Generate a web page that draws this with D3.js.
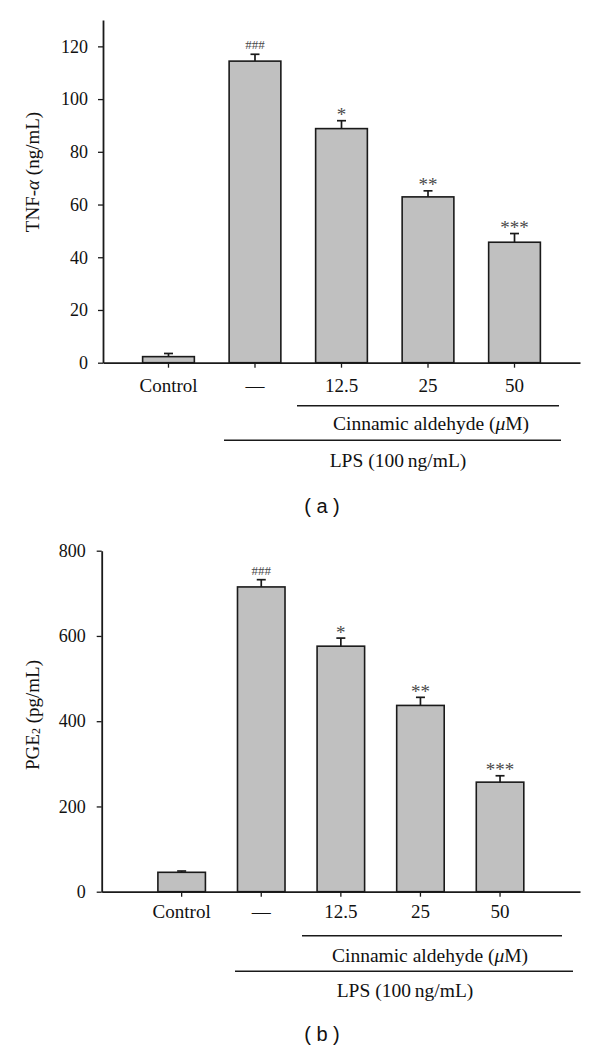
<!DOCTYPE html>
<html>
<head>
<meta charset="utf-8">
<script src="https://cdn.jsdelivr.net/npm/d3@7"></script>
<style>
  body { margin: 0; background: #fff; }
  svg { display: block; }
  text { font-family: "Liberation Serif", "Times New Roman", serif; fill: #111; }
</style>
</head>
<body>
<svg id="chart" width="600" height="1050"></svg>
<script>
// ---- data ----
const categories = ["Control", "\u2014", "12.5", "25", "50"];
const tnfValues = [2.3, 114.4, 88.8, 62.9, 45.7];
const tnfErrors = [1.2, 2.6, 3.0, 2.3, 3.3];
const pgeValues = [45.5, 715, 576, 437, 257];
const pgeErrors = [3, 17, 19, 19, 15];
const sigMarks = ["", "###", "*", "**", "***"];
const tnfTicks = [0, 20, 40, 60, 80, 100, 120];
const pgeTicks = [0, 200, 400, 600, 800];

const svg = d3.select("#chart");
const ink = "#1a1a1a";

function panel(cfg) {
  const g = svg.append("g");
  const x = d3.scaleBand().domain(categories)
    .range(cfg.xRange).paddingInner(cfg.pi).paddingOuter(cfg.po);
  const y = d3.scaleLinear().domain(cfg.yDomain).range(cfg.yRange);
  const y0 = y(0);

  // bars
  g.selectAll("rect.bar").data(cfg.values).join("rect")
    .attr("x", (d, i) => x(categories[i]))
    .attr("y", d => y(d))
    .attr("width", x.bandwidth())
    .attr("height", d => y0 - y(d))
    .attr("fill", "#c0c0c0")
    .attr("stroke", ink)
    .attr("stroke-width", 1.6);

  // error bars (upper only)
  const capW = 9;
  cfg.values.forEach((v, i) => {
    const cx = x(categories[i]) + x.bandwidth() / 2;
    const top = y(v + cfg.errors[i]);
    g.append("line").attr("x1", cx).attr("x2", cx)
      .attr("y1", y(v)).attr("y2", top)
      .attr("stroke", ink).attr("stroke-width", 1.7);
    g.append("line").attr("x1", cx - capW / 2).attr("x2", cx + capW / 2)
      .attr("y1", top).attr("y2", top)
      .attr("stroke", ink).attr("stroke-width", 1.7);
    if (sigMarks[i]) {
      const isHash = sigMarks[i].startsWith("#");
      g.append("text")
        .attr("x", cx)
        .attr("y", isHash ? top - 5 : top + 0.5)
        .attr("text-anchor", "middle")
        .style("font-size", isHash ? "13px" : "19px")
        .style("fill", "#4a4a4a")
        .text(sigMarks[i]);
    }
  });

  // y axis
  const yAxis = d3.axisLeft(y).tickValues(cfg.yTicks).tickSize(5)
    .tickPadding(cfg.yPad).tickSizeOuter(0);
  const ya = g.append("g").attr("transform", `translate(${cfg.xRange[0]},0)`).call(yAxis);
  ya.select(".domain").attr("stroke", ink).attr("stroke-width", 1.8);
  ya.selectAll(".tick line").attr("stroke", ink).attr("stroke-width", 1.3);
  ya.selectAll(".tick text").style("font-size", "18px").style("fill", "#111")
    .style("font-family", '"Liberation Serif", serif');

  // x axis
  const xAxis = d3.axisBottom(x).tickSize(5).tickPadding(cfg.xPad).tickSizeOuter(0);
  const xa = g.append("g").attr("transform", `translate(0,${y0})`).call(xAxis);
  xa.select(".domain").attr("stroke", ink).attr("stroke-width", 1.8);
  xa.selectAll(".tick line").attr("stroke", ink).attr("stroke-width", 1.3);
  xa.selectAll(".tick text").style("font-size", "19px").style("fill", "#111")
    .style("font-family", '"Liberation Serif", serif');

  // y label
  const yl = g.append("text")
    .attr("transform", `translate(${cfg.yLabelPos[0]},${cfg.yLabelPos[1]}) rotate(-90)`)
    .attr("text-anchor", "middle")
    .attr("dominant-baseline", "central")
    .style("font-size", "19px");
  cfg.yLabel(yl);

  // group brackets
  const cin = cfg.cin;
  g.append("line").attr("x1", cin.x1).attr("x2", cin.x2).attr("y1", cin.y).attr("y2", cin.y)
    .attr("stroke", ink).attr("stroke-width", 1.4);
  const ct = g.append("text").attr("x", cin.tx).attr("y", cin.ty)
    .attr("text-anchor", "middle").attr("dominant-baseline", "central")
    .style("font-size", "19.5px");
  ct.append("tspan").text("Cinnamic aldehyde (");
  ct.append("tspan").style("font-style", "italic").text("\u03BC");
  ct.append("tspan").text("M)");

  const lps = cfg.lps;
  g.append("line").attr("x1", lps.x1).attr("x2", lps.x2).attr("y1", lps.y).attr("y2", lps.y)
    .attr("stroke", ink).attr("stroke-width", 1.4);
  g.append("text").attr("x", lps.tx).attr("y", lps.ty)
    .attr("text-anchor", "middle").attr("dominant-baseline", "central")
    .style("font-size", "19.5px")
    .text("LPS (100\u2009ng/mL)");

  // panel caption
  g.append("text").attr("x", cfg.cap[0]).attr("y", cfg.cap[1])
    .attr("text-anchor", "middle").attr("dominant-baseline", "central")
    .style("font-family", '"Liberation Sans", Arial, sans-serif')
    .style("font-size", "20px")
    .text(cfg.capText);
}

panel({
  values: tnfValues, errors: tnfErrors,
  xRange: [103, 580], pi: 0.402, po: 0.458,
  yDomain: [0, 130], yRange: [362.7, 20], yTicks: tnfTicks,
  yPad: 10, xPad: 11,
  yLabelPos: [32, 172],
  yLabel: t => {
    t.append("tspan").text("TNF-");
    t.append("tspan").style("font-style", "italic").text("\u03B1");
    t.append("tspan").text(" (ng/mL)");
  },
  cin: { x1: 297, x2: 559, y: 405.7, tx: 431, ty: 423 },
  lps: { x1: 224, x2: 561, y: 440.3, tx: 398, ty: 460 },
  cap: [322, 506], capText: "( a )"
});

panel({
  values: pgeValues, errors: pgeErrors,
  xRange: [101.7, 580], pi: 0.403, po: 0.706,
  yDomain: [0, 800], yRange: [891.7, 550.7], yTicks: pgeTicks,
  yPad: 11, xPad: 8,
  yLabelPos: [32, 715],
  yLabel: t => {
    t.append("tspan").text("PGE");
    t.append("tspan").style("font-size", "12px").attr("dy", "4").text("2");
    t.append("tspan").attr("dy", "-4").text(" (pg/mL)");
  },
  cin: { x1: 302, x2: 562, y: 935.7, tx: 430, ty: 955 },
  lps: { x1: 235, x2: 573, y: 971.3, tx: 405, ty: 990 },
  cap: [322, 1034], capText: "( b )"
});
</script>
</body>
</html>
